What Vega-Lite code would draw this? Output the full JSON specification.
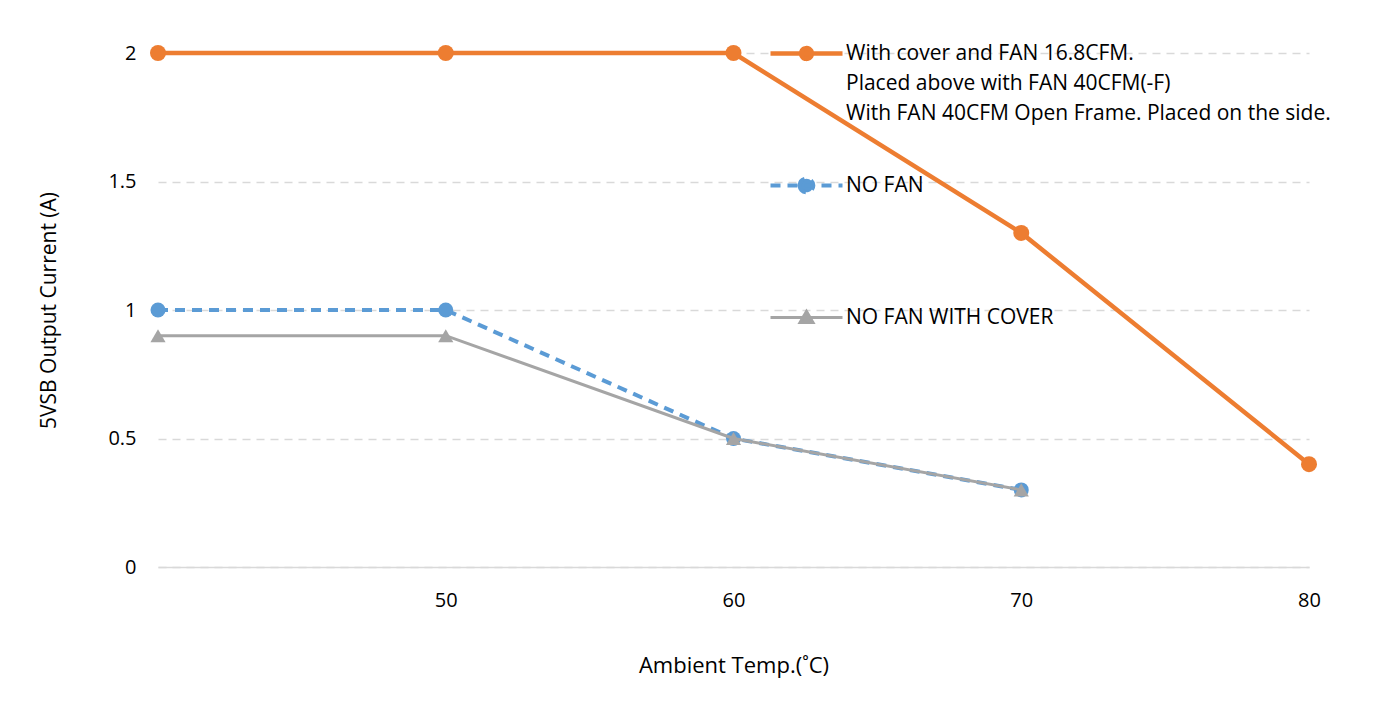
{
  "$schema": "https://vega.github.io/schema/vega-lite/v6.json",
  "width": 1151,
  "height": 514,
  "autosize": {"type": "none"},
  "padding": {"left": 158, "top": 53, "right": 68, "bottom": 144},
  "background": "white",
  "config": {"font": "Open Sans", "view": {"stroke": null}},
  "data": {
    "values": [
      {"series": "With cover and FAN 16.8CFM.\nPlaced above with FAN 40CFM(-F)\nWith FAN 40CFM Open Frame. Placed on the side.", "key": "A", "temp": 40, "current": 2},
      {"series": "With cover and FAN 16.8CFM.\nPlaced above with FAN 40CFM(-F)\nWith FAN 40CFM Open Frame. Placed on the side.", "key": "A", "temp": 50, "current": 2},
      {"series": "With cover and FAN 16.8CFM.\nPlaced above with FAN 40CFM(-F)\nWith FAN 40CFM Open Frame. Placed on the side.", "key": "A", "temp": 60, "current": 2},
      {"series": "With cover and FAN 16.8CFM.\nPlaced above with FAN 40CFM(-F)\nWith FAN 40CFM Open Frame. Placed on the side.", "key": "A", "temp": 70, "current": 1.3},
      {"series": "With cover and FAN 16.8CFM.\nPlaced above with FAN 40CFM(-F)\nWith FAN 40CFM Open Frame. Placed on the side.", "key": "A", "temp": 80, "current": 0.4},
      {"series": "NO FAN", "key": "B", "temp": 40, "current": 1},
      {"series": "NO FAN", "key": "B", "temp": 50, "current": 1},
      {"series": "NO FAN", "key": "B", "temp": 60, "current": 0.5},
      {"series": "NO FAN", "key": "B", "temp": 70, "current": 0.3},
      {"series": "NO FAN WITH COVER", "key": "C", "temp": 40, "current": 0.9},
      {"series": "NO FAN WITH COVER", "key": "C", "temp": 50, "current": 0.9},
      {"series": "NO FAN WITH COVER", "key": "C", "temp": 60, "current": 0.5},
      {"series": "NO FAN WITH COVER", "key": "C", "temp": 70, "current": 0.3}
    ]
  },
  "encoding": {
    "x": {
      "field": "temp", "type": "quantitative",
      "scale": {"domain": [40, 80], "nice": false, "zero": false},
      "axis": {
        "values": [50, 60, 70, 80], "title": "Ambient Temp.(˚C)", "grid": false, "ticks": false,
        "domainColor": "#D9D9D9", "domainWidth": 1.5, "labelFontSize": 20, "labelColor": "#000000",
        "labelPadding": 23, "labelFlush": false, "titleFontSize": 22, "titleFontWeight": "normal",
        "titleColor": "#000000", "titlePadding": 45
      }
    },
    "y": {
      "field": "current", "type": "quantitative",
      "scale": {"domain": [0, 2], "nice": false},
      "axis": {
        "values": [0, 0.5, 1, 1.5, 2], "format": "~g", "title": "5VSB Output Current (A)",
        "domain": false, "ticks": false, "gridColor": "#D9D9D9", "gridDash": [8, 6], "gridWidth": 1.5,
        "labelPadding": 22, "labelFontSize": 20, "labelColor": "#000000", "titleFontSize": 21,
        "titleFontWeight": "normal", "titleColor": "#000000", "titlePadding": 48
      }
    },
    "color": {
      "field": "series", "type": "nominal",
      "scale": {
        "domain": [
          "With cover and FAN 16.8CFM.\nPlaced above with FAN 40CFM(-F)\nWith FAN 40CFM Open Frame. Placed on the side.",
          "NO FAN", "NO FAN WITH COVER"
        ],
        "range": ["#ED7D31", "#5B9BD5", "#A5A5A5"]
      },
      "legend": {
        "orient": "none", "legendX": 638, "legendY": -10, "title": null,
        "labelFontSize": 21, "labelColor": "#000000", "labelLimit": 0, "labelOffset": 29,
        "symbolSize": 5184, "symbolType": "M-1,0H1", "rowPadding": 46, "gridAlign": "all",
        "encode": {
          "symbols": {
            "update": {
              "shape": {"signal": "datum.value === 'NO FAN WITH COVER' ? 'M-1,0H1M0,-0.17L0.18,0.14L-0.18,0.14Z' : (datum.value === 'NO FAN' ? 'M-1,0H1M-0.19,0A0.19,0.19 0 1,0 0.19,0A0.19,0.19 0 1,0 -0.19,0Z' : 'M-1,0H1M-0.15,0A0.15,0.15 0 1,0 0.15,0A0.15,0.15 0 1,0 -0.15,0Z')"},
              "strokeDash": {"signal": "datum.value === 'NO FAN' ? [10, 7] : [1, 0]"},
              "strokeWidth": {"signal": "datum.value === 'NO FAN WITH COVER' ? 3 : (datum.value === 'NO FAN' ? 4 : 4.5)"},
              "fill": {"scale": "color", "field": "value"},
              "stroke": {"scale": "color", "field": "value"},
              "opacity": {"value": 1},
              "fillOpacity": {"value": 1}
            }
          },
          "labels": {"update": {"lineBreak": {"value": "\n"}, "lineHeight": {"value": 30}}}
        }
      }
    }
  },
  "layer": [
    {"transform": [{"filter": "datum.key === 'A'"}], "mark": {"type": "line", "strokeWidth": 4.5}},
    {"transform": [{"filter": "datum.key === 'A'"}], "mark": {"type": "point", "filled": true, "opacity": 1, "shape": "circle", "size": 256}},
    {"transform": [{"filter": "datum.key === 'B'"}], "mark": {"type": "line", "strokeWidth": 4, "strokeDash": [10, 7]}},
    {"transform": [{"filter": "datum.key === 'B'"}], "mark": {"type": "point", "filled": true, "opacity": 1, "shape": "circle", "size": 225}},
    {"transform": [{"filter": "datum.key === 'C'"}], "mark": {"type": "line", "strokeWidth": 3}},
    {"transform": [{"filter": "datum.key === 'C'"}], "mark": {"type": "point", "filled": true, "opacity": 1, "shape": "triangle-up", "size": 230}}
  ]
}
